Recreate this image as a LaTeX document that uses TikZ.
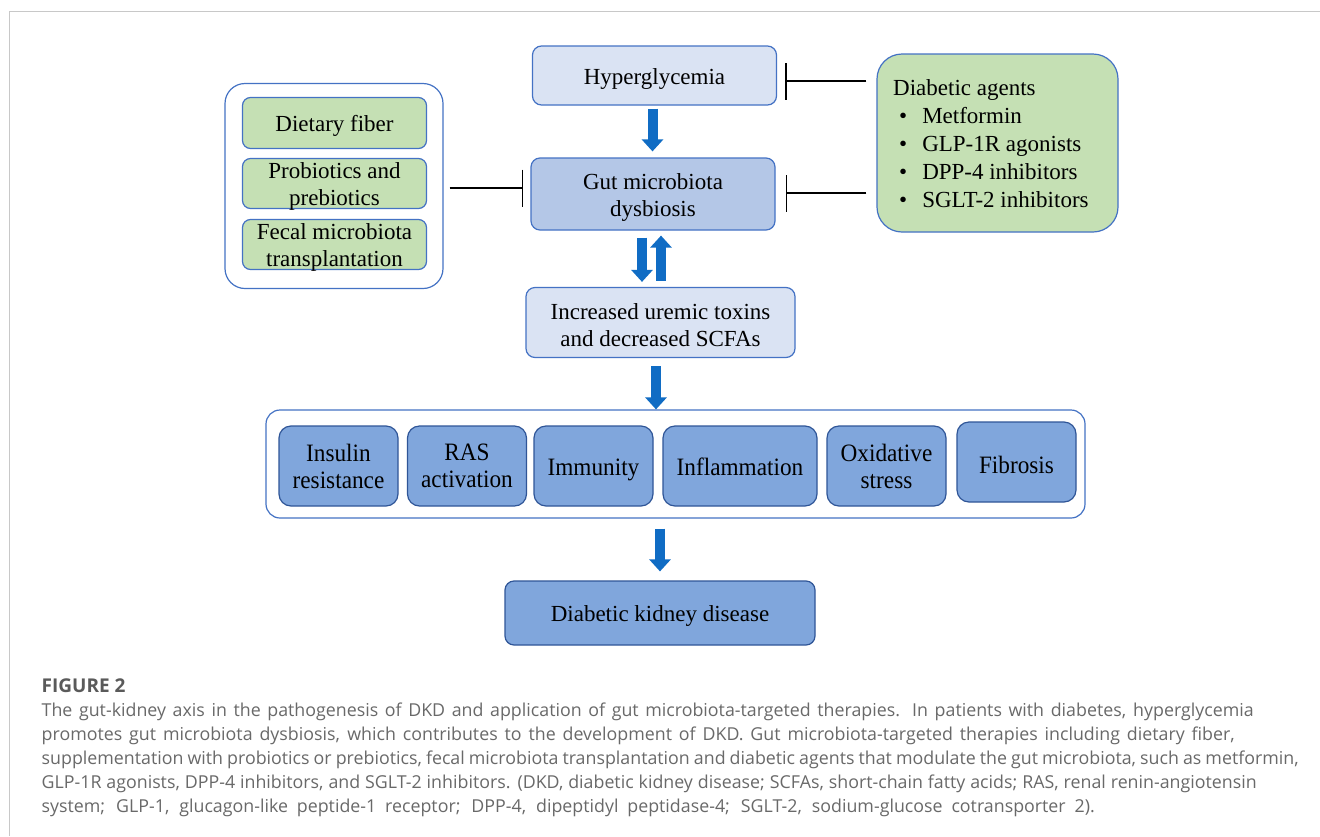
\documentclass[tikz,border=0pt]{standalone}
\usepackage{fontspec}
\setmainfont{Liberation Serif}
\newfontfamily\capfont{Open Sans}
\newfontfamily\condserif[FakeStretch=0.93]{Liberation Serif}
\usetikzlibrary{arrows.meta}
\definecolor{frameg}{RGB}{200,200,200}
\definecolor{boxline}{RGB}{68,114,196}
\definecolor{darkline}{RGB}{47,85,151}
\definecolor{paleblue}{RGB}{218,227,243}
\definecolor{midblue}{RGB}{180,199,231}
\definecolor{deepblue}{RGB}{128,166,220}
\definecolor{palegreen}{RGB}{197,224,180}
\definecolor{arrowblue}{RGB}{16,108,196}
\definecolor{captxt}{RGB}{105,105,105}
\definecolor{caphead}{RGB}{90,90,90}
\begin{document}
\begin{tikzpicture}[x=1pt,y=-1pt,
  lbl/.style={font=\fontsize{23}{27}\selectfont, align=center, inner sep=0pt},
  rlbl/.style={font=\condserif\fontsize{25}{27}\selectfont, align=center, inner sep=0pt},
  txt/.style={label={[lbl,yshift=-3pt]center:#1}},
  rtxt/.style n args={2}{label={[rlbl,yshift=#1]center:#2}},
  box/.style={draw=boxline, line width=1.2pt, rounded corners=9pt, inner sep=0pt},
  lightbox/.style={box, fill=paleblue},
  medbox/.style={box, fill=midblue},
  greenbox/.style={box, fill=palegreen, rounded corners=8pt},
  rowbox/.style={box, draw=darkline, fill=deepblue, minimum width=119pt, minimum height=80pt, rounded corners=12pt},
  container/.style={draw=boxline, line width=1.2pt, fill=white, inner sep=0pt},
  bigarrow/.style={draw=arrowblue, line width=10pt, -{Triangle[width=21pt,length=12pt]}},
  inhibit/.style={draw=black, line width=1.2pt, -{Bar[width=37pt,line width=1.4pt]}},
  agentline/.style={lbl, anchor=base west},
  caption/.style={anchor=base west, inner sep=0pt, text=captxt, font=\capfont\fontsize{17.8}{24}\selectfont}
]
\useasboundingbox (0,0) rectangle (1320,836);
\fill[white] (0,0) rectangle (1320,836);
% frame
\draw[frameg, line width=1.5pt] (9.5,836) -- (9.5,11.5) -- (1320,11.5);

% central column
\node[lightbox, minimum width=244pt, minimum height=59pt, txt={Hyperglycemia}] (hyp) at (654.5,75.5) {};
\node[medbox, minimum width=244pt, minimum height=72pt, txt={Gut microbiota\\dysbiosis}] (gut) at (653,194) {};
\node[lightbox, minimum width=269pt, minimum height=70pt, txt={Increased uremic toxins\\and decreased SCFAs}] (inc) at (660.5,322.5) {};

% container of mechanisms
\node[container, rounded corners=14pt, minimum width=819pt, minimum height=108pt] (mech) at (675.5,464) {};
\node[rowbox, rtxt={0pt}{Insulin\\resistance}] (ins) at (338.5,466) {};
\node[rowbox, rtxt={0pt}{RAS\\activation}] (ras) at (467,466) {};
\node[rowbox, rtxt={-4pt}{Immunity}] (imm) at (593.5,466) {};
\node[rowbox, minimum width=154pt, rtxt={-1pt}{Inflammation}] (inf) at (740,466) {};
\node[rowbox, rtxt={0pt}{Oxidative\\stress}] (oxi) at (886.5,466) {};
\node[rowbox, rtxt={-3pt}{Fibrosis}] (fib) at (1016.5,462) {};

\node[box, fill=deepblue, draw=darkline, minimum width=310pt, minimum height=64pt, txt={Diabetic kidney disease}] (dkd) at (660,613) {};

% left therapies
\node[container, rounded corners=20pt, minimum width=218pt, minimum height=205pt] (left) at (334,186) {};
\node[greenbox, minimum width=184pt, minimum height=51pt, txt={Dietary fiber}] (fib1) at (334.5,123) {};
\node[greenbox, minimum width=184pt, minimum height=50pt, txt={Probiotics and\\prebiotics}] (pro) at (334.5,183.5) {};
\node[greenbox, minimum width=184pt, minimum height=50pt, txt={Fecal microbiota\\transplantation}] (fec) at (334.5,244.5) {};

% right therapies
\node[box, fill=palegreen, rounded corners=25pt, minimum width=241pt, minimum height=178pt] (agents) at (997.5,143) {};
\node[agentline] (agt) at (893,95) {Diabetic agents};
\node[agentline] (a1) at (899,123) {•\hspace{15pt}Metformin};
\node[agentline] (a2) at (899,151) {•\hspace{15pt}GLP-1R agonists};
\node[agentline] (a3) at (899,179) {•\hspace{15pt}DPP-4 inhibitors};
\node[agentline] (a4) at (899,207) {•\hspace{15pt}SGLT-2 inhibitors};

% block arrows
\draw[bigarrow, shorten <=3pt, shorten >=6pt] ([xshift=-2pt]hyp.south) -- ([xshift=-2pt]hyp.south |- gut.north);
\draw[bigarrow, shorten <=7pt, shorten >=5pt] ([xshift=-11pt]gut.south) -- ([xshift=-11pt]gut.south |- inc.north);
\draw[bigarrow, shorten <=6pt, shorten >=5pt] ([xshift=8pt]gut.south |- inc.north) -- ([xshift=8pt]gut.south);
\draw[bigarrow, shorten <=8pt, shorten >=0pt] ([xshift=-4.5pt]inc.south) -- ([xshift=-4.5pt]inc.south |- mech.north);
\draw[bigarrow, shorten <=10pt, shorten >=9pt] (dkd.north |- mech.south) -- (dkd.north);

% inhibition connectors
\coordinate (hypin) at (hyp.east |- 0,81);
\coordinate (agin1) at (agents.west |- 0,81);
\draw[inhibit, shorten <=10pt, shorten >=8pt] (agin1) -- (hypin);
\coordinate (gutin) at (gut.east |- 0,193);
\coordinate (agin2) at (agents.west |- 0,193);
\draw[inhibit, shorten <=10pt, shorten >=10pt] (agin2) -- (gutin);
\coordinate (gutinl) at (gut.west |- 0,188);
\coordinate (leftout) at (left.east |- 0,188);
\draw[inhibit, shorten <=6pt, shorten >=7pt] (leftout) -- (gutinl);

% caption
\node[anchor=base west, inner sep=0pt, text=caphead, font=\capfont\bfseries\fontsize{19}{20}\selectfont] (fig) at (41.5,692) {FIGURE 2};
\node[caption] (c1) at (41.5,716) {\makebox[1212pt][s]{The gut-kidney axis in the pathogenesis of DKD and application of gut microbiota-targeted therapies. In patients with diabetes, hyperglycemia}};
\node[caption] (c2) at (41.5,740) {\makebox[1193pt][s]{promotes gut microbiota dysbiosis, which contributes to the development of DKD. Gut microbiota-targeted therapies including dietary fiber,}};
\node[caption] (c3) at (41.5,764) {\makebox[1257pt][s]{supplementation with probiotics or prebiotics, fecal microbiota transplantation and diabetic agents that modulate the gut microbiota, such as metformin,}};
\node[caption] (c4) at (41.5,788) {\makebox[1215pt][s]{GLP-1R agonists, DPP-4 inhibitors, and SGLT-2 inhibitors. (DKD, diabetic kidney disease; SCFAs, short-chain fatty acids; RAS, renal renin-angiotensin}};
\node[caption] (c5) at (41.5,812) {\makebox[1053pt][s]{system; GLP-1, glucagon-like peptide-1 receptor; DPP-4, dipeptidyl peptidase-4; SGLT-2, sodium-glucose cotransporter 2).}};
\end{tikzpicture}
\end{document}
